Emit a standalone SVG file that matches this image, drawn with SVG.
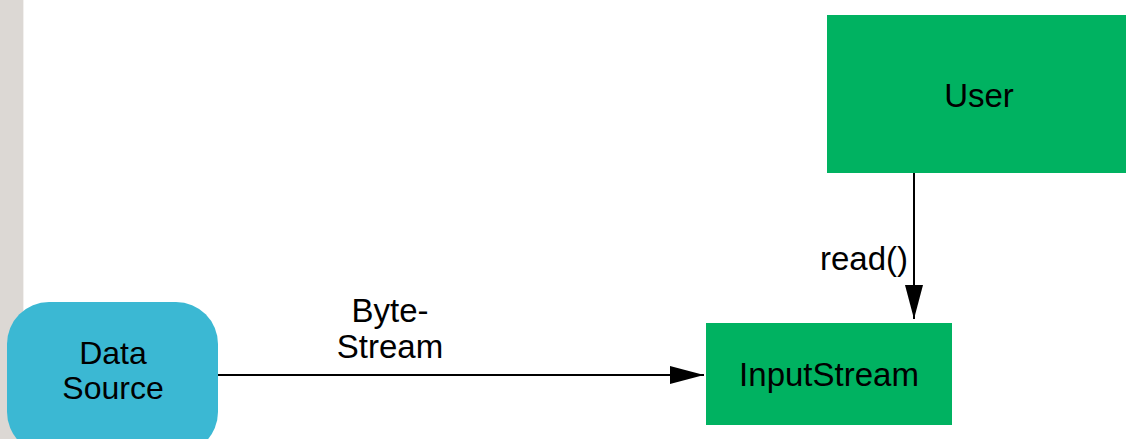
<svg xmlns="http://www.w3.org/2000/svg" width="1126" height="439" viewBox="0 0 1126 439">
  <style>
    .lbl { font-family: "Liberation Sans", Arial, sans-serif; font-size: 33px; fill: #000; text-anchor: middle; }
    .small { font-size: 32px; }
    .box { fill: #00b261; }
    .edge { stroke: #000; stroke-width: 2; fill: none; }
  </style>
  <defs>
    <marker id="arrow" markerUnits="userSpaceOnUse" markerWidth="34" markerHeight="20" refX="34" refY="10" orient="auto">
      <path d="M0,1 L34,10 L0,19 Z" fill="#000"/>
    </marker>
  </defs>
  <rect x="0" y="0" width="1126" height="439" fill="#ffffff"/>
  <rect x="0" y="0" width="23" height="439" fill="#dcd8d4"/>
  <rect x="23" y="0" width="1" height="439" fill="#f2f0ee"/>

  <g id="connectors">
    <line class="edge" x1="218" y1="375" x2="704" y2="375" marker-end="url(#arrow)"/>
    <line class="edge" x1="914" y1="173" x2="914" y2="319" marker-end="url(#arrow)"/>
    <text class="lbl" x="390" y="322"><tspan x="390" y="322">Byte-</tspan><tspan x="390" y="358">Stream</tspan></text>
    <text class="lbl" x="864" y="270">read()</text>
  </g>

  <g id="datasource">
    <rect x="7" y="302" width="211" height="152" rx="42" ry="42" fill="#3bb8d3"/>
    <text class="lbl small" x="113" y="364"><tspan x="113" y="364">Data</tspan><tspan x="113" y="399">Source</tspan></text>
  </g>

  <g id="user">
    <rect class="box" x="827" y="15" width="310" height="158"/>
    <text class="lbl" x="979" y="107">User</text>
  </g>

  <g id="inputstream">
    <rect class="box" x="706" y="323" width="246" height="102"/>
    <text class="lbl" x="829" y="386">InputStream</text>
  </g>
</svg>
